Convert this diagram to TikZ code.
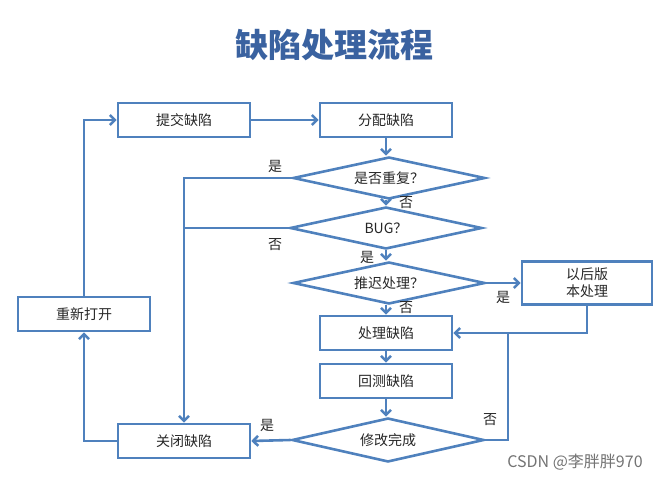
\documentclass[tikz,border=0pt]{standalone}
\usepackage{fontspec}
\newfontfamily\cjk{Noto Sans CJK SC}
\usetikzlibrary{shapes.geometric,arrows.meta}
\definecolor{linea}{RGB}{79,129,189}
\definecolor{titol}{RGB}{58,98,160}

\begin{document}
\begin{tikzpicture}[x=1pt, y=-1pt,
    every node/.style={font=\cjk\fontsize{14}{17}\selectfont, text=black!85},
    caixa/.style={draw=linea, line width=2.6pt, 
        minimum width=132pt, minimum height=34pt, 
        inner sep=0pt, align=center},
    rombe/.style={draw=linea, line width=2.6pt, diamond, aspect=4.8,
        minimum width=192pt, minimum height=42pt, inner sep=0pt},
    fletxa/.style={draw=linea, line width=2.6pt, 
        -{Straight Barb[length=5pt,width=10pt]}},
    linia/.style={draw=linea, line width=2.6pt}
    ]
    \useasboundingbox (0,0) rectangle (666,478);
    \node[font=\cjk\bfseries\fontsize{33}{36}\selectfont, text=titol] (titol) at (334,45) {缺陷处理流程};
    % caixes
    \node[caixa] (submit) at (184,120) {提交缺陷};
    \node[caixa] (assign) at (386,120) {分配缺陷};
    \node[rombe] (dup) at (389,178) {是否重复？};
    \node[rombe] (bug) at (386,228) {BUG？};
    \node[rombe] (delay) at (389,283) {推迟处理？};
    \node[caixa, minimum height=43pt, minimum width=130pt] (later) at (587,283) {以后版\\本处理};
    \node[caixa] (fix) at (386,333) {处理缺陷};
    \node[caixa] (retest) at (386,381) {回测缺陷};
    \node[rombe, minimum height=44pt] (done) at (388,440) {修改完成};
    \node[caixa] (close) at (184,441) {关闭缺陷};
    \node[caixa] (reopen) at (84,314) {重新打开};
    \coordinate (join) at (508,333);
    % fletxes
    \draw[fletxa] (submit) -- (assign);
    \draw[fletxa] (assign) -- (assign.south |- dup.north);
    \draw[fletxa] (assign.south |- dup.south) -- (assign.south |- bug.north);
    \draw[fletxa] (assign.south |- bug.south) -- (assign.south |- delay.north);
    \draw[fletxa] (assign.south |- delay.south) -- (fix);
    \draw[fletxa] (fix) -- (retest);
    \draw[fletxa] (retest) -- (retest.south |- done.north);
    \draw[fletxa] (delay.east) -- (later.west |- delay.east);
    \draw[fletxa] (dup.west) -| (close.north);
    \draw[linia] (bug.west) -- (close.north |- bug.west);
    \draw[fletxa] (later.south) |- (fix.east);
    \draw[linia] (done.east) -| (join);
    \draw[fletxa] (done.west) -- (close.east);
    \draw[fletxa] (close.west) -| (reopen.south);
    \draw[fletxa] (reopen.north) |- (submit.west);
    % etiquetes
    \node (e1) at (275,166) {是};
    \node (e2) at (406,203) {否};
    \node (e3) at (275,245) {否};
    \node (e4) at (367,257) {是};
    \node (e5) at (503,297) {是};
    \node (e6) at (406,308) {否};
    \node (e7) at (490,420) {否};
    \node (e8) at (267,425) {是};
    \node[font=\cjk\fontsize{16}{18}\selectfont, text=black!55] (marca) at (575,462) {CSDN @李胖胖970};
\end{tikzpicture}
\end{document}
